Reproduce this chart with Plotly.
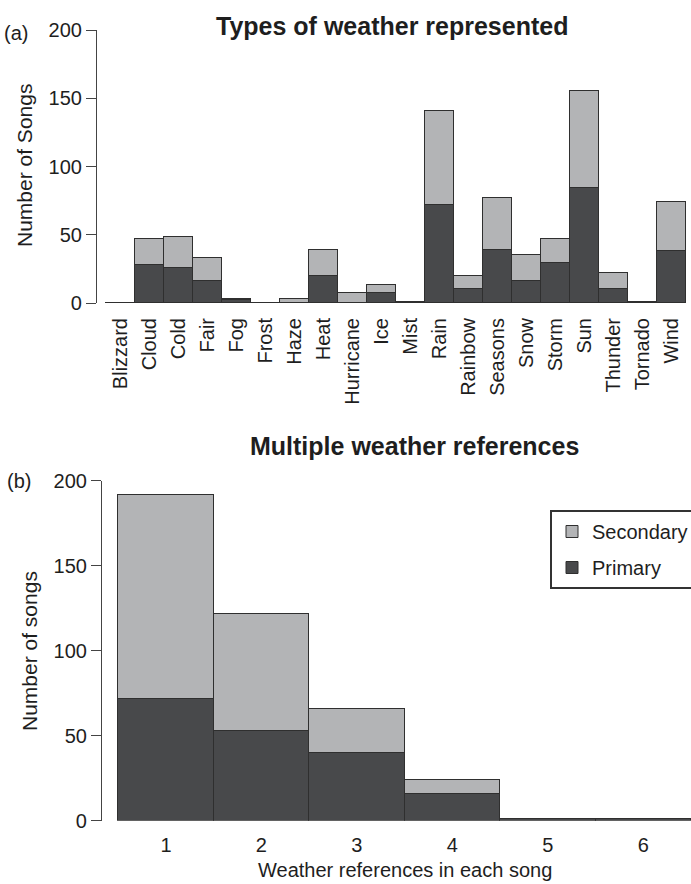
import plotly.graph_objects as go

W, H = 691, 884

# ---- data: panel (a) ----
weather_types = ["Blizzard", "Cloud", "Cold", "Fair", "Fog", "Frost", "Haze", "Heat",
                 "Hurricane", "Ice", "Mist", "Rain", "Rainbow", "Seasons", "Snow",
                 "Storm", "Sun", "Thunder", "Tornado", "Wind"]
types_primary = [0, 28, 26, 16, 2, 0, 0, 20, 0, 7, 1, 72, 10, 39, 16, 29, 84, 10, 1, 38]
types_secondary = [0, 19, 22, 17, 1, 0, 3, 19, 7, 6, 0, 69, 10, 38, 19, 18, 71, 12, 0, 36]

# ---- data: panel (b) ----
ref_counts = [1, 2, 3, 4, 5, 6]
refs_primary = [72, 53, 40, 16, 1, 1]
refs_secondary = [120, 69, 26, 8, 0, 0]

y_ticks = [0, 50, 100, 150, 200]

DARK = "#48494b"
LIGHT = "#b3b4b6"
EDGE = "#2f2f2f"
AX = "#444444"
TXT = "#1e1e1e"
FONT = "Liberation Sans"

fig = go.Figure()

n = len(weather_types)
fig.add_trace(go.Bar(x=weather_types, y=types_primary,
                     marker=dict(color=DARK, line=dict(color=EDGE, width=1.2)),
                     showlegend=False, xaxis="x", yaxis="y", name="Primary"))
fig.add_trace(go.Bar(x=weather_types, y=types_secondary,
                     marker=dict(color=LIGHT, line=dict(color=EDGE, width=1.2)),
                     showlegend=False, xaxis="x", yaxis="y", name="Secondary"))

fig.add_trace(go.Bar(x=ref_counts, y=refs_primary,
                     marker=dict(color=DARK, line=dict(color=EDGE, width=1)),
                     name="Primary", legendgroup="p", legendrank=2, xaxis="x2", yaxis="y2"))
fig.add_trace(go.Bar(x=ref_counts, y=refs_secondary,
                     marker=dict(color=LIGHT, line=dict(color=EDGE, width=1)),
                     name="Secondary", legendgroup="s", legendrank=1, xaxis="x2", yaxis="y2"))


def px_x(v):
    return v / W


def px_y(v):
    return 1 - v / H


tickfont = dict(family=FONT, size=20, color=TXT)
yax_common = dict(range=[0, 200], tickvals=y_ticks, showline=True, linecolor=AX, linewidth=1.2,
                  ticks="outside", ticklen=10, tickcolor=AX, tickwidth=1.2, showgrid=False,
                  zeroline=False, tickfont=tickfont, fixedrange=True, automargin=False)

fig.update_layout(
    template="none",
    width=W, height=H,
    margin=dict(l=0, r=0, t=0, b=0, autoexpand=False),
    paper_bgcolor="white", plot_bgcolor="white",
    barmode="stack", bargap=0,
    xaxis=dict(domain=[px_x(97), px_x(686)], range=[-0.81, n - 0.5], type="category",
               categoryorder="array", categoryarray=weather_types,
               showline=False, ticks="outside", ticklen=6, tickcolor="rgba(0,0,0,0)",
               tickangle=-90, showgrid=False, zeroline=False, tickfont=tickfont,
               anchor="y", automargin=False),
    yaxis=dict(domain=[px_y(303), px_y(30)], anchor="x", **yax_common),
    xaxis2=dict(domain=[px_x(102), 1.0], range=[0.33, 6.5], tickvals=ref_counts,
                showline=False, ticks="outside", ticklen=6, tickcolor="rgba(0,0,0,0)",
                showgrid=False, zeroline=False, tickfont=tickfont, anchor="y2", automargin=False),
    yaxis2=dict(domain=[px_y(820.7), px_y(480.7)], anchor="x2", **yax_common),
    legend=dict(x=px_x(550), y=px_y(510), xanchor="left", yanchor="top",
                bordercolor="#333333", borderwidth=2, bgcolor="white",
                font=dict(family=FONT, size=20, color=TXT),
                traceorder="grouped", tracegroupgap=7, itemwidth=30),
    showlegend=True,
)

ann = [
    dict(text="(a)", x=px_x(2), y=px_y(33), xanchor="left", yanchor="middle",
         font=dict(family=FONT, size=20, color=TXT)),
    dict(text="(b)", x=px_x(5), y=px_y(481), xanchor="left", yanchor="middle",
         font=dict(family=FONT, size=20, color=TXT)),
    dict(text="<b>Types of weather represented</b>", x=px_x(392), y=px_y(26),
         xanchor="center", yanchor="middle", font=dict(family=FONT, size=25, color=TXT)),
    dict(text="<b>Multiple weather references</b>", x=px_x(414), y=px_y(446),
         xanchor="center", yanchor="middle", font=dict(family=FONT, size=25, color=TXT)),
    dict(text="Number of Songs", x=px_x(24), y=px_y(166), xanchor="center", yanchor="middle",
         textangle=-90, font=dict(family=FONT, size=21, color=TXT)),
    dict(text="Number of songs", x=px_x(29), y=px_y(651), xanchor="center", yanchor="middle",
         textangle=-90, font=dict(family=FONT, size=21, color=TXT)),
    dict(text="Weather references in each song", x=px_x(405), y=px_y(870),
         xanchor="center", yanchor="middle", font=dict(family=FONT, size=20, color=TXT)),
]
for a in ann:
    a.update(xref="paper", yref="paper", showarrow=False)
fig.update_layout(annotations=ann)

fig.write_html(
    "out.html",
    config={"displayModeBar": False},
    post_script="document.body.style.margin='0';document.body.style.overflow='hidden';",
)
